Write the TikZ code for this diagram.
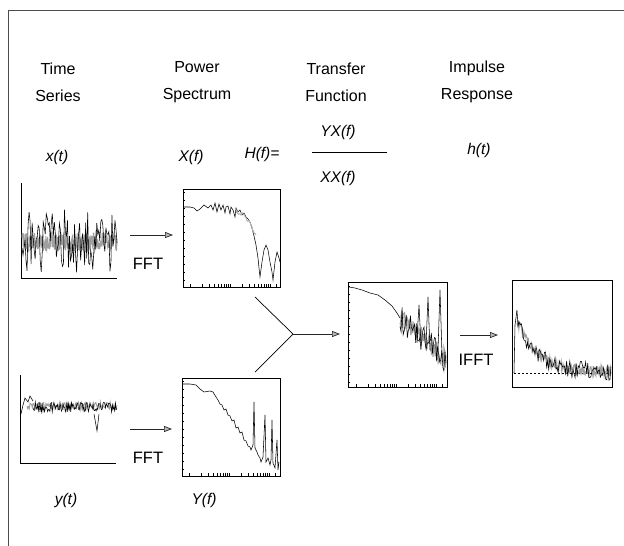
\documentclass[tikz,border=0pt]{standalone}
\usepackage{fontspec}
\setmainfont{Liberation Sans}
\usetikzlibrary{arrows.meta,calc}
\begin{document}
\begin{tikzpicture}[x=1pt,y=-1pt,
  lbl/.style={font=\fontsize{16}{27}\selectfont, align=center, inner sep=0pt},
  mth/.style={font=\fontsize{15.5}{18}\selectfont\itshape, inner sep=0pt},
  fftlbl/.style={font=\fontsize{16.5}{18}\selectfont, inner sep=0pt},
  pbox/.style={draw, line width=0.8pt, inner sep=0pt, outer sep=0pt},
  axbox/.style={inner sep=0pt, outer sep=0pt},
  arr/.style={line width=0.7pt, black!85, -{Triangle[length=8pt,width=6pt,fill=gray!55]}},
  sig/.style={line width=0.55pt, black},
  band/.style={line width=0.9pt, gray!75},
  tck/.style={line width=0.5pt}]
\useasboundingbox (0,0) rectangle (624,546);
\pgfmathsetseed{1234}
% frame
\draw[line width=0.6pt, black!70] (624,10) -- (8,10) -- (8,546);

% headings
\node[lbl] (h1) at (58,82) {Time\\Series};
\node[lbl] (h2) at (197,82) {Power\\Spectrum};
\node[lbl] (h3) at (336,82) {Transfer\\Function};
\node[lbl] (h4) at (477,82) {Impulse\\Response};

% math labels
\node[mth] (lx) at (57,157) {x(t)};
\node[mth] (lX) at (191,157) {X(f)};
\node[mth] (lH) at (262,154) {H(f)=};
\node[mth] (lYX) at (338,132) {YX(f)};
\node[mth] (lXX) at (338,178) {XX(f)};
\draw[line width=0.6pt] (312,152) -- (387,152);
\node[mth] (lh) at (479,150) {h(t)};
\node[mth] (ly) at (66,500) {y(t)};
\node[mth] (lY) at (204,500) {Y(f)};

% plot areas
\node[axbox, minimum width=96pt, minimum height=95pt] (xt) at (69,230.5) {};
\node[axbox, minimum width=96pt, minimum height=88pt] (yt) at (68,419) {};
\node[pbox, minimum width=97pt, minimum height=98pt] (Xf) at (231.5,238) {};
\node[pbox, minimum width=98pt, minimum height=98pt] (Yf) at (231,427) {};
\node[pbox, minimum width=99pt, minimum height=105pt] (Hf) at (397.5,334.5) {};
\node[pbox, minimum width=100pt, minimum height=107pt] (ht) at (562,333.5) {};

% axes of time series
\draw[line width=0.8pt] (xt.north west) -- (xt.south west) -- (xt.south east);
\draw[line width=0.8pt] (yt.north west) -- (yt.south west) -- (yt.south east);

% x(t) signal
\draw[band, line width=1pt] plot[domain=22:117, samples=320] (\x, {242+9*rand});
\draw[sig] plot[domain=22:117, samples=95] (\x, {242+33*rand});

% y(t) signal
\draw[band] plot[domain=27:117, samples=120] (\x, {406+4*rand});
\draw[sig] (21,414) -- (23,405) -- (25,398) -- (28,402) -- (30,396) -- (33,401);
\draw[sig] plot[domain=33:117, samples=110] (\x, {407+5*rand});
\draw[sig] (94,414) -- (97,431) -- (99,414);

% X(f) curve
\draw[sig] (184,207) -- (190,207) -- (194,208) -- (197,211) -- (200,209) -- (204,205) -- (208,208) -- (211,205) -- (213,210) -- (215,203) -- (217,212) -- (219,204) -- (221,210) -- (223,205) -- (225,213) -- (226,207) -- (228,206) -- (230,214) -- (231,207) -- (233,210) -- (235,217) -- (236,208) -- (238,212) -- (240,210) -- (242,215) -- (244,213) -- (246,217) -- (248,219) -- (250,222) -- (252,228) -- (254,236) -- (256,245) -- (258,258) -- (259,268) -- (260,277) -- (262,262) -- (264,250) -- (266,245) -- (268,250) -- (270,262) -- (272,272) -- (273,280) -- (275,262) -- (277,252) -- (279,258) -- (280,262);
\draw[band, gray!60] plot[domain=236:256, samples=25] (\x, {212+(\x-236)^2/16+2*rand});

% Y(f) curve
\draw[sig] (183,384) -- (190,384) -- (196,385) -- (200,389) -- (204,392) -- (210,391) -- (213,392) -- (216,397) -- (218,400) -- (220,404) -- (222,405) -- (224,410) -- (226,409) -- (228,415) -- (230,416) -- (232,421) -- (234,420) -- (236,428) -- (238,427) -- (240,433) -- (242,432) -- (244,440) -- (246,441) -- (248,446) -- (250,447) -- (251,450) -- (253,445) -- (254,402) -- (255,448) -- (257,452) -- (258,455) -- (260,458) -- (261,462) -- (263,457) -- (265,415) -- (266,462) -- (268,458) -- (270,465) -- (271,460) -- (272,420) -- (273,463) -- (275,468) -- (277,440) -- (278,470) -- (279,462);

% H(f) curve
\draw[sig] (349,287) -- (355,288) -- (362,290) -- (370,293) -- (378,295) -- (385,300) -- (392,306) -- (397,313) -- (400,318);
\draw[band, line width=1.1pt] plot[domain=400:446, samples=90] (\x, {318+(\x-400)*0.9+10*rand});
\draw[sig] plot[domain=400:446, samples=45] (\x, {318+(\x-400)*0.9+14*rand});
\draw[sig] (417,338) -- (419,305) -- (421,345);
\draw[sig] (426,345) -- (428,297) -- (430,350);
\draw[sig] (438,350) -- (440,290) -- (442,355);

% impulse response
\draw[line width=0.6pt, dash pattern=on 2pt off 2pt] (514,373) -- (611,373);
\draw[sig] (514,373) -- (515,325) -- (517,310);
\draw[band, line width=1.1pt] plot[domain=517:611, samples=150] (\x, {372-58*exp(-(\x-515)/20)+5*rand});
\draw[sig] plot[domain=517:611, samples=90] (\x, {372-58*exp(-(\x-515)/20)+9*rand});

% log ticks
\foreach \bx/\by in {190/287, 189/476, 356/387} {
  \foreach \d in {0,1} {
    \foreach \k in {1,...,9} {
      \draw[tck] ({\bx+\d*40+40*log10(\k)},\by) -- ++(0,-3);
    }
  }
  \draw[tck] ({\bx+80},\by) -- ++(0,-3);
  \draw[tck] ({\bx+86},\by) -- ++(0,-3);
}
\foreach \by in {192,200,...,284} { \draw[tck] (183,\by) -- ++(2,0); }
\foreach \by in {381,389,...,473} { \draw[tck] (182,\by) -- ++(2,0); }
\foreach \by in {286,294,...,384} { \draw[tck] (348,\by) -- ++(2,0); }

% FFT arrows
\coordinate (ya1) at (0,235);
\coordinate (ya2) at (0,429);
\coordinate (ya3) at (0,335);
\draw[arr, shorten <=13pt, shorten >=10pt] (xt.east |- ya1) -- (Xf.west |- ya1);
\draw[arr, shorten <=14pt, shorten >=10pt] (yt.east |- ya2) -- (Yf.west |- ya2);
\node[fftlbl] (f1) at (148,264) {FFT};
\node[fftlbl] (f2) at (148,458) {FFT};

% junction
\coordinate (J) at (293,334);
\draw[line width=0.7pt] ($(Xf.south east)+(-25,10)$) -- (J);
\draw[line width=0.7pt] ($(Yf.north east)+(-25,-6)$) -- (J);
\draw[arr, shorten >=8pt] (J) -- (Hf.west |- J);

% IFFT
\draw[arr, shorten <=13pt, shorten >=14pt] (Hf.east |- ya3) -- (ht.west |- ya3);
\node[fftlbl] (f3) at (476,360) {IFFT};
\end{tikzpicture}
\end{document}
